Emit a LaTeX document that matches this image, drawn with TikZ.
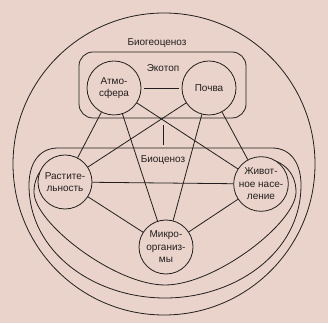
\documentclass[tikz,border=0pt]{standalone}
\usepackage{fontspec}
\setmainfont{Liberation Sans}
\usepackage{tikz}
\usetikzlibrary{positioning}
\definecolor{paper}{RGB}{234,211,203}
\definecolor{ink}{RGB}{35,30,30}

\begin{document}
\begin{tikzpicture}[
    x=1pt, y=1pt,
    every node/.style={font=\fontsize{10}{12.5}\selectfont, text=ink},
    unit/.style={circle, draw=ink, fill=paper, line width=0.8pt, minimum size=54pt, inner sep=0pt, align=center},
    ecobox/.style={rectangle, draw=ink, rounded corners=14pt, line width=0.8pt, minimum width=167pt, minimum height=66pt},
    link/.style={draw=ink, line width=0.8pt},
    tag/.style={inner sep=1pt}
]

\fill[paper] (0,0) rectangle (328,323);
\useasboundingbox (0,0) rectangle (328,323);

\draw[link] (164,159) circle (151);

% biocenosis contours
\draw[link] (58,175) .. controls (38,175) and (29,158) .. (29,138)
    .. controls (29,70) and (95,25) .. (165,25)
    .. controls (235,25) and (301,70) .. (301,138)
    .. controls (301,158) and (292,175) .. (272,175) -- cycle;
\draw[link] (70,167) .. controls (48,165) and (34,151) .. (34,131)
    .. controls (34,100) and (115,38) .. (165,38)
    .. controls (215,38) and (296,100) .. (296,131)
    .. controls (296,151) and (282,165) .. (258,165);

\node[ecobox] (ecotop) at (162.5,238) {};
\node[tag] (bgc) at (157,280) {Биогеоценоз};
\node[tag] (eco) at (163,255) {Экотоп};
\node[tag] (bc) at (163,163) {Биоценоз};

\node[unit] (atmo) at (114,235) {Атмо-\\сфера};
\node[unit] (pochva) at (209,235) {Почва};
\node[unit] (rast) at (65,141) {Растите-\\льность};
\node[unit] (zhivot) at (261,139) {Живот-\\ное насе-\\ление};
\node[unit] (mikro) at (166,76) {Микро-\\организ-\\мы};

\coordinate (tickTop) at (163,198);
\coordinate (tickBot) at (163,178);

\draw[link, shorten <=3pt, shorten >=3pt] (atmo) -- (pochva);
\draw[link] (atmo) -- (rast);
\draw[link] (atmo) -- (mikro);
\draw[link] (atmo) -- (zhivot);
\draw[link] (pochva) -- (rast);
\draw[link] (pochva) -- (mikro);
\draw[link] (pochva) -- (zhivot);
\draw[link] (rast) -- (zhivot);
\draw[link] (rast) -- (mikro);
\draw[link] (zhivot) -- (mikro);
\draw[link] (tickTop) -- (tickBot);

\end{tikzpicture}
\end{document}
